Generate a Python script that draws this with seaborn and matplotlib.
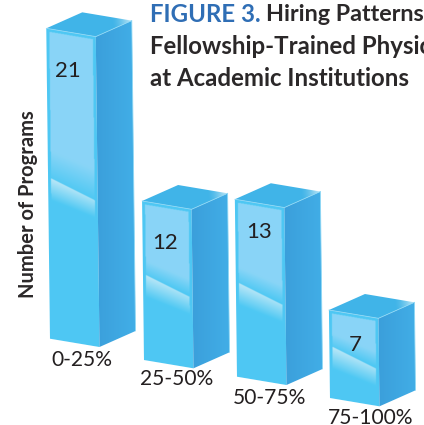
import numpy as np
import pandas as pd
import matplotlib
matplotlib.use("Agg")
import matplotlib.pyplot as plt
import seaborn as sns
from matplotlib.patches import Polygon
from matplotlib.transforms import Affine2D
from matplotlib.colors import to_rgb

# ---- data ----
categories = ["0-25%", "25-50%", "50-75%", "75-100%"]
programs = [21, 12, 13, 7]
y_title = "Number of Programs"
title_blue = "FIGURE 3."
title_lines = ["Hiring Patterns", "Fellowship-Trained Physicians", "at Academic Institutions"]

# ---- layout (pixels): the artwork has a false perspective, each bar has its own floor and scale ----
W, H = 424, 425
base_x = [50, 144, 237, 330]
base_y = [338.7, 360, 376.7, 398]
px_per_unit = [14.78, 13.25, 13.65, 12.57]
width_vec = np.array([49.5, 8.3])
depth_vec = np.array([36.0, -16.0])
lean = 0.012
glare_left_y = [178, 275, 283, 347]
glare_slope = 0.5
value_pos = [(68, 71), (165, 243), (259, 232), (355, 345)]
cat_pos = [(81.5, 360), (177, 379), (269.5, 398), (371, 417.5)]

C_EDGE = np.array(to_rgb("#4EC8F3"))
C_PANEL = np.array(to_rgb("#89D5F7"))
C_GLARE = np.array(to_rgb("#BAE7F7"))
C_TOP = np.array(to_rgb("#40B4E8"))
C_TOP_HI = np.array(to_rgb("#C8EAF6"))
C_SIDE_L = np.array(to_rgb("#3B9FDB"))
C_SIDE_R = np.array(to_rgb("#41ADE6"))
C_TEXT = "#231F20"
C_BLUE = "#2F6EB5"

sns.set_theme(style="white")
plt.rcParams["font.family"] = ["Lato", "DejaVu Sans"]

fig = plt.figure(figsize=(W / 100, H / 100), dpi=100, facecolor="white")
ax = fig.add_axes([0, 0, 1, 1])
df = pd.DataFrame({"range": categories, "programs": programs})
sns.barplot(data=df, x="range", y="programs", ax=ax, color=C_EDGE, saturation=1, width=0.8)
ax.axis("off")

canvas = fig.add_axes([0, 0, 1, 1], facecolor="none")
canvas.set_xlim(0, W)
canvas.set_ylim(H, 0)
canvas.axis("off")


def paint(func, pts, z):
    pts = np.asarray(pts)
    x0, y0 = np.floor(pts.min(0)) - 1
    x1, y1 = np.ceil(pts.max(0)) + 1
    xs = np.arange(x0, x1, 0.5) + 0.25
    ys = np.arange(y0, y1, 0.5) + 0.25
    X, Y = np.meshgrid(xs, ys)
    im = canvas.imshow(func(X, Y), extent=(x0, x1, y1, y0), aspect="auto",
                       interpolation="bilinear", zorder=z)
    clip = Polygon(pts, closed=True, transform=canvas.transData, fc="none", ec="none")
    canvas.add_patch(clip)
    im.set_clip_path(clip)


def mix(a, b, t):
    return a[None, None, :] * (1 - t[..., None]) + b[None, None, :] * t[..., None]


for i, bar in enumerate(ax.patches):
    val = bar.get_height()
    x_left, bw = bar.get_x(), bar.get_width()
    h = val * px_per_unit[i]
    up = np.array([-lean * h, -h])
    BL = np.array([base_x[i], base_y[i]], dtype=float)
    BR, TL = BL + width_vec, BL + up
    TR = TL + width_vec

    # seaborn's rectangle, sheared into the front face
    a = width_vec / bw
    c = up / val
    e = BL - a * x_left
    to_px = Affine2D.from_values(a[0], a[1], c[0], c[1], e[0], e[1])
    bar.set_transform(to_px + canvas.transData)
    bar.set_clip_on(False)

    def front(X, Y, TL=TL, up=up, h=h, gy=glare_left_y[i]):
        M = np.linalg.inv(np.column_stack([width_vec, -up]))
        u = M[0, 0] * (X - TL[0]) + M[0, 1] * (Y - TL[1])
        v = M[1, 0] * (X - TL[0]) + M[1, 1] * (Y - TL[1])
        dx = X - TL[0] - 4
        d = Y - (gy + glare_slope * dx)            # pixels below the glare line
        flat = Y - (gy + 0.42 * dx)                # the fade above it is a little flatter
        img = np.broadcast_to(C_EDGE, X.shape + (3,)).copy()
        inside = (u > 3 / 49.5) & (u < 1 - 3 / 49.5) & (v * h > 3)
        fade = np.clip(0.1 * h, 15, 32)
        above = mix(C_EDGE, C_PANEL, np.clip(0.12 - flat / fade, 0, 1))
        tail = Y - (gy + 22 + 0.4 * dx)
        below = mix(C_EDGE, C_GLARE, np.clip(-tail / 22, 0, 1))
        panel = np.where((d < 0)[..., None], above, below)
        return np.where(inside[..., None], panel, img)

    paint(front, [TL, TR, BR, BL], 2)

    def side(X, Y, TR=TR):
        t = np.clip((X - TR[0]) / depth_vec[0], 0, 1)
        return mix(C_SIDE_L, C_SIDE_R, t)

    paint(side, [TR, TR + depth_vec, BR + depth_vec, BR], 2)

    def top(X, Y, P=TR + depth_vec):
        dist = np.hypot(X - P[0], Y - P[1])
        return mix(C_TOP, C_TOP_HI, np.clip(1 - dist / 20, 0, 1) ** 1.5)

    paint(top, [TL, TL + depth_vec, TR + depth_vec, TR], 2)

    for p, q in [(TR, TR + depth_vec), (TL, TR), (TR + depth_vec, BR + depth_vec)]:
        canvas.plot([p[0], q[0]], [p[1], q[1]], color="#8FD8F5", lw=0.6, zorder=3,
                    solid_capstyle="round")

    vx, vy = value_pos[i]
    canvas.text(vx, vy, str(programs[i]), ha="center", va="center", fontsize=16,
                color=C_TEXT, zorder=4)
    cx, cy = cat_pos[i]
    canvas.text(cx, cy, categories[i], ha="center", va="center", fontsize=15.1,
                color=C_TEXT, zorder=4, clip_on=False)

canvas.set_xlim(0, W)
canvas.set_ylim(H, 0)

canvas.text(28, 204, y_title, rotation=90, ha="center", va="center", fontsize=14.5,
            fontweight="bold", color="#2B2829", zorder=4)

ts = 17.3
blue = canvas.text(150, 14, title_blue, ha="left", va="center", fontsize=ts,
                   fontweight="bold", color=C_BLUE)
fig.canvas.draw()
ext = blue.get_window_extent()
canvas.text(ext.x1 + 5, 14, title_lines[0], ha="left", va="center", fontsize=ts - 0.5,
            fontweight="bold", color="#2B2829")
canvas.text(150, 46, title_lines[1], ha="left", va="center", fontsize=ts,
            fontweight="bold", color="#2B2829")
canvas.text(150, 78, title_lines[2], ha="left", va="center", fontsize=ts,
            fontweight="bold", color="#2B2829")

fig.savefig("out.png", dpi=100, facecolor="white")
